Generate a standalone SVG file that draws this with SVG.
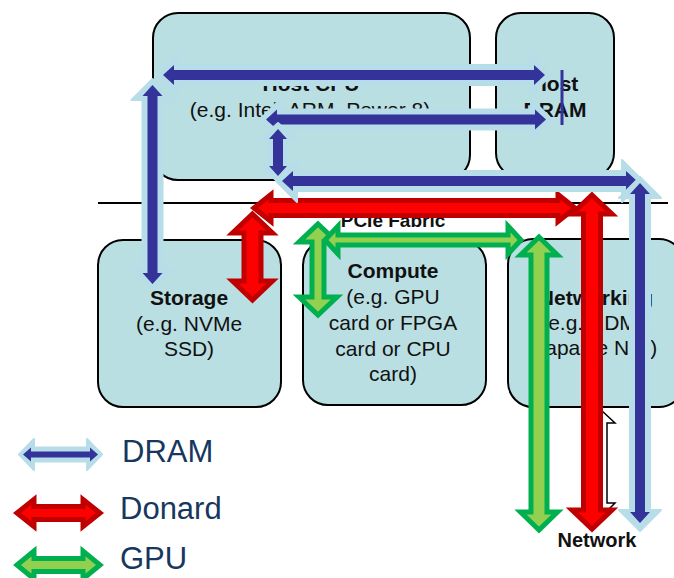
<svg xmlns="http://www.w3.org/2000/svg" width="674" height="578" viewBox="0 0 674 578">
  <style>
    .box { fill: #badfe3; stroke: #000; stroke-width: 2; }
    .t { font-family: "Liberation Sans", Arial, sans-serif; font-size: 21px; text-anchor: middle; fill: #111; }
    .b { font-weight: bold; }
    .leg { font-family: "Liberation Sans", Arial, sans-serif; font-size: 31px; fill: #17375e; }
    .dram-o { fill: #b7dde8; stroke: #b7dde8; stroke-width: 2; stroke-linejoin: round; }
    .dram-i { fill: #333399; }
    .donard { fill: #ff0000; stroke: #c00000; stroke-width: 5; stroke-linejoin: miter; }
    .gpu { fill: #92d050; stroke: #00b050; stroke-width: 5; stroke-linejoin: miter; }
  </style>

  <!-- hardware blocks -->
  <g id="host-cpu">
    <rect class="box" x="153" y="13" width="317" height="167" rx="25"/>
    <text class="t b" x="311" y="91">Host CPU</text>
    <text class="t" x="310" y="117">(e.g. Intel, ARM, Power 8)</text>
  </g>
  <g id="host-dram">
    <rect class="box" x="496" y="13" width="118" height="165" rx="25"/>
    <text class="t b" x="555" y="91">Host</text>
    <text class="t b" x="555" y="117">DRAM</text>
  </g>
  <g id="storage">
    <rect class="box" x="98" y="240" width="183" height="167" rx="25"/>
    <text class="t b" x="189" y="305">Storage</text>
    <text class="t" x="189" y="331">(e.g. NVMe</text>
    <text class="t" x="189" y="356">SSD)</text>
  </g>
  <g id="compute">
    <rect class="box" x="303" y="240" width="183" height="165" rx="25"/>
    <text class="t b" x="393" y="278">Compute</text>
    <text class="t" x="393" y="304">(e.g. GPU</text>
    <text class="t" x="393" y="330">card or FPGA</text>
    <text class="t" x="393" y="356">card or CPU</text>
    <text class="t" x="393" y="381">card)</text>
  </g>
  <g id="networking">
    <rect class="box" x="508" y="239" width="176" height="168" rx="25"/>
    <text class="t b" x="596" y="305">Networking</text>
    <text class="t" x="596" y="330">(e.g. RDMA</text>
    <text class="t" x="596" y="355">capable NIC)</text>
  </g>

  <!-- PCIe fabric divider -->
  <g id="pcie-fabric">
    <line x1="98" y1="203" x2="668" y2="203" stroke="#000" stroke-width="2"/>
    <text class="t b" x="393" y="227" style="font-size:19px">PCIe Fabric</text>
  </g>

  <g id="network">
    <path d="M601,410 L615,423 L607,423 L607,503 L615,503 L608,510" fill="#fff" stroke="#000" stroke-width="1.5"/>
    <text class="t b" x="597" y="547" style="font-size:20px">Network</text>
  </g>

  <!-- data paths -->
  <g id="connectors">
    <!-- GPU paths -->
    <polygon class="gpu" points="318,224 337,242 324,242 324,297 337,297 318,315 299,297 312,297 312,242 299,242"/>
    <polygon class="gpu" points="325,240 338,226 338,235 508,235 508,226 521,240 508,254 508,245 338,245 338,254"/>
    <polygon class="gpu" points="539,237 557.5,255 547,255 547,512 557.5,512 539,530 520.5,512 531,512 531,255 520.5,255"/>

    <!-- Donard paths -->
    <polygon class="donard" points="252.5,214 272.5,233 261,233 261,281 272.5,281 252.5,300 232.5,281 244,281 244,233 232.5,233"/>
    <polygon class="donard" points="254,208 271,194.5 271,200.5 558,200.5 558,194.5 575,208 558,221.5 558,215.5 271,215.5 271,221.5"/>
    <polygon class="donard" points="592,195 612,214 600.5,214 600.5,510 612,510 592,529 572,510 583.5,510 583.5,214 572,214"/>

    <!-- DRAM paths: light outline under dark core -->
    <polygon class="dram-o" points="157,75 178,54 178,65 530,65 530,54 551,75 530,96 530,85 178,85 178,96"/>
    <polygon class="dram-i" points="163,75 174,65 174,70 534,70 534,65 545,75 534,85 534,80 174,80 174,85"/>

    <polygon class="dram-o" points="152.5,79 173.5,100 162.5,100 162.5,269 173.5,269 152.5,290 131.5,269 142.5,269 142.5,100 131.5,100"/>
    <polygon class="dram-i" points="152.5,85 162.5,96 157.5,96 157.5,273 162.5,273 152.5,284 142.5,273 147.5,273 147.5,96 142.5,96"/>

    <polygon class="dram-o" points="260,119.5 281,98.5 281,109.5 531,109.5 531,98.5 552,119.5 531,140.5 531,129.5 281,129.5 281,140.5"/>
    <polygon class="dram-i" points="266,119.5 277,109.5 277,114.5 535,114.5 535,109.5 546,119.5 535,129.5 535,124.5 277,124.5 277,129.5"/>

    <polygon class="dram-o" points="278,123 297,140 288,140 288,165 297,165 278,182 259,165 268,165 268,140 259,140"/>
    <polygon class="dram-i" points="278,129 287,139 283,139 283,166 287,166 278,176 269,166 273,166 273,139 269,139"/>

    <polygon class="dram-o" points="276,181 297,160 297,171 622,171 622,160 643,181 622,202 622,191 297,191 297,202"/>
    <polygon class="dram-i" points="282,181 293,171 293,176 626,176 626,171 637,181 626,191 626,186 293,186 293,191"/>

    <polygon class="dram-o" points="640,177 661,198 650,198 650,510 661,510 640,531 619,510 630,510 630,198 619,198"/>
    <polygon class="dram-i" points="640,183 650,194 645,194 645,512 650,512 640,523 630,512 635,512 635,194 630,194"/>

    <line x1="562" y1="70" x2="562" y2="125" stroke="#333399" stroke-width="3"/>
  </g>

  <!-- legend -->
  <g id="legend">
    <polygon class="dram-o" points="19,454.5 34,439 34,447.5 87,447.5 87,439 102,454.5 87,470 87,461.5 34,461.5 34,470"/>
    <polygon class="dram-i" points="23,454.5 31,447.5 31,451.5 90,451.5 90,447.5 98,454.5 90,461.5 90,457.5 31,457.5 31,461.5"/>
    <text class="leg" x="122" y="462">DRAM</text>

    <polygon class="donard" points="17,513 34,499.5 34,506.5 83,506.5 83,499.5 100,513 83,526.5 83,519.5 34,519.5 34,526.5"/>
    <text class="leg" x="120" y="519">Donard</text>

    <polygon class="gpu" points="17,565 34,551 34,558.5 83,558.5 83,551 100,565 83,579 83,571.5 34,571.5 34,579"/>
    <text class="leg" x="120" y="569">GPU</text>
  </g>
</svg>
